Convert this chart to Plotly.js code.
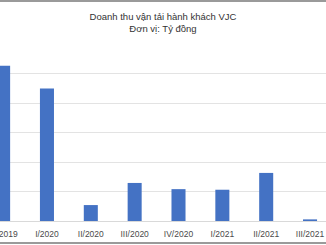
<!DOCTYPE html>
<html>
<head>
<meta charset="utf-8">
<script src="https://cdn.plot.ly/plotly-3.0.1.min.js"></script>
<style>
  html, body { margin: 0; padding: 0; background: #fff; }
  #wrap { position: relative; width: 326px; height: 245px; overflow: hidden; }
  #chart { width: 326px; height: 245px; }
  .edge { position: absolute; left: 0; width: 326px; height: 2px; background: #9a9a9a; }
</style>
</head>
<body>
<div id="wrap">
  <div id="chart"></div>
  <div class="edge" style="top:0px;"></div>
  <div class="edge" style="top:242px;"></div>
</div>
<script>
const quarters = ["IV/2019", "I/2020", "II/2020", "III/2020", "IV/2020", "I/2021", "II/2021", "III/2021"];
const revenue = [5260, 4490, 540, 1290, 1080, 1060, 1630, 55];
const chartTitle = "Doanh thu vận tải hành khách VJC<br>Đơn vị: Tỷ đồng";

const trace = {
  type: "bar",
  x: quarters.map((q, i) => i),
  y: revenue,
  marker: { color: "#4472C4" },
  width: 0.32,
  hoverinfo: "skip"
};

const layout = {
  width: 326,
  height: 245,
  margin: { l: 0, r: 0, t: 44, b: 24, pad: 0 },
  paper_bgcolor: "#ffffff",
  plot_bgcolor: "#ffffff",
  showlegend: false,
  font: { family: "Liberation Sans, Arial, sans-serif", color: "#333333" },
  title: {
    text: chartTitle,
    font: { size: 9.5, color: "#333333", family: "Liberation Sans, Arial, sans-serif" },
    x: 0.5, xanchor: "center",
    y: 1 - 19.5 / 245, yanchor: "middle", yref: "container"
  },
  xaxis: {
    range: [-0.071, 7.364],
    tickmode: "array",
    tickvals: quarters.map((q, i) => i),
    ticktext: quarters,
    tickfont: { size: 8.5, color: "#4a4a4a" },
    ticklabeloverflow: "allow",
    ticklabelstandoff: 5,
    showgrid: false,
    zeroline: false,
    showline: true,
    linecolor: "#d9d9d9",
    linewidth: 1,
    ticks: "",
    fixedrange: true
  },
  yaxis: {
    range: [0, 6000],
    dtick: 1000,
    showticklabels: false,
    showgrid: true,
    gridcolor: "#e3e3e3",
    gridwidth: 1,
    zeroline: false,
    showline: false,
    ticks: "",
    fixedrange: true
  }
};

Plotly.newPlot("chart", [trace], layout, { displayModeBar: false, staticPlot: true });
</script>
</body>
</html>
